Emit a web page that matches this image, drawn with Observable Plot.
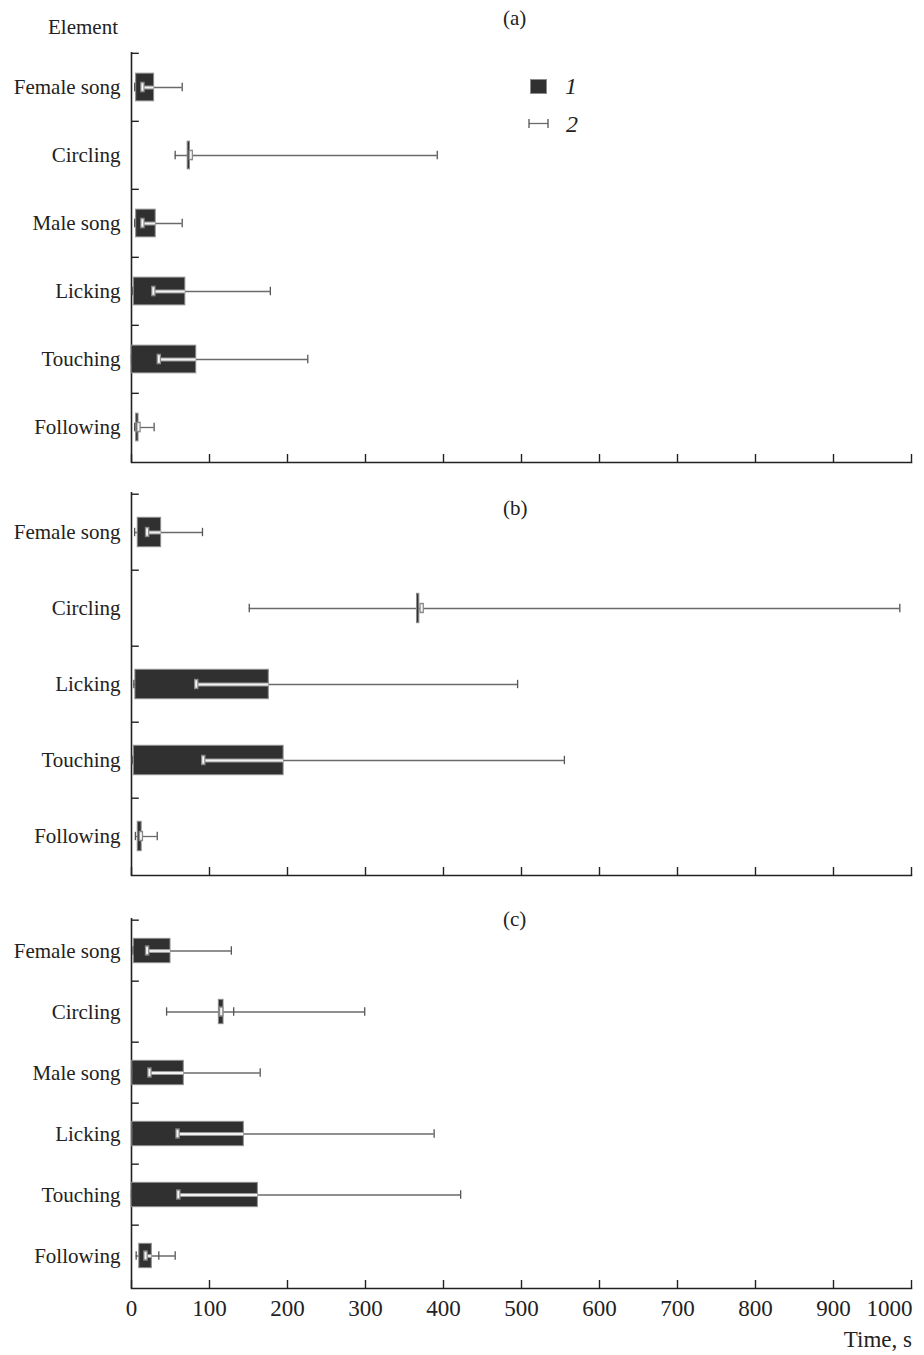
<!DOCTYPE html>
<html><head><meta charset="utf-8">
<script src="https://cdn.jsdelivr.net/npm/d3@7"></script>
<script src="https://cdn.jsdelivr.net/npm/@observablehq/plot@0.6"></script>
<style>
body{margin:0;background:#fff;font-family:"Liberation Serif",serif;color:#222;}
#wrap{position:relative;width:924px;height:1355px;overflow:hidden;}
#wrap svg.plot{position:absolute;left:0;}
.t{position:absolute;font-size:21px;line-height:1;white-space:nowrap;}
</style></head><body><div id="wrap"></div>
<script>
// ---------- data ----------
const xTicks = [0,100,200,300,400,500,600,700,800,900,1000];

// Panel (a)
const elementsA = ["Female song","Circling","Male song","Licking","Touching","Following"];
const startA = [6, 72, 6, 3, 0, 6];
const endA   = [29, 75, 31, 69, 83, 9];
const loA    = [4, 56, 4, 1, 0, 4];
const midA   = [14, 76, 14, 28, 35, 9];
const hiA    = [65, 392, 65, 178, 226, 29];
const extraA = [null, null, null, null, null, null];

// Panel (b)
const elementsB = ["Female song","Circling","Licking","Touching","Following"];
const startB = [8, 366, 5, 3, 8];
const endB   = [38, 369, 176, 195, 13];
const loB    = [4, 151, 3, 1, 5];
const midB   = [20, 372, 83, 92, 12];
const hiB    = [91, 985, 495, 555, 33];
const extraB = [null, null, null, null, null];

// Panel (c)
const elementsC = ["Female song","Circling","Male song","Licking","Touching","Following"];
const startC = [3, 112, 1, 1, 0, 10];
const endC   = [50, 118, 67, 144, 162, 26];
const loC    = [2, 45, 1, 1, 0, 6];
const midC   = [20, 115, 23, 59, 60, 18];
const hiC    = [128, 299, 165, 388, 422, 56];
const extraC = [null, 131, null, null, null, 35];

// ---------- drawing ----------
const W = 924, ML = 131, MR = 13;
const wrap = document.getElementById("wrap");

function rowsOf(el, s, e, lo, mid, hi, ex) {
  return el.map((d, i) => ({el: d, start: s[i], end: e[i], lo: lo[i], mid: mid[i], hi: hi[i], extra: ex[i]}));
}

function panel({elements, rows, top, marginTop, innerH, marginBottom, barH, labels}) {
  const n = elements.length;
  const bw = innerH / n;
  const height = marginTop + innerH + marginBottom;
  const ins = (bw - barH) / 2;
  const capIns = (bw - 9) / 2;
  const inside = rows.filter(r => r.mid < r.end).map(r => ({...r, segEnd: Math.min(r.end, r.hi)}));
  const extras = rows.filter(r => r.extra != null);
  const marks = [
    Plot.frame({anchor: "bottom", stroke: "#222", strokeWidth: 1.6}),
    Plot.ruleX([0], {stroke: "#222", strokeWidth: 1.6}),
    Plot.ruleY(elements, {y: d => d, x1: 0, x2: 10, dy: -bw / 2, stroke: "#222", strokeWidth: 1.4}),
    Plot.axisY({tickSize: 0, tickPadding: 11, fontSize: 21, fill: "#222", label: null}),
    Plot.tickX(xTicks, {x: d => d, insetTop: innerH - 8, stroke: "#222", strokeWidth: 1.4}),
    Plot.ruleY(rows, {y: "el", x1: "lo", x2: "hi", stroke: "#6a6a6a", strokeWidth: 1.3}),
    Plot.rectX(rows, {y: "el", x1: "start", x2: "end", insetTop: ins, insetBottom: ins, fill: "#303030", stroke: "#8c8c8c", strokeWidth: 1}),
    Plot.ruleY(inside, {y: "el", x1: "mid", x2: "segEnd", stroke: "#9a9a9a", strokeWidth: 4}),
    Plot.ruleY(inside, {y: "el", x1: "mid", x2: "segEnd", stroke: "#f2f2f2", strokeWidth: 1.8}),
    Plot.tickX(rows, {y: "el", x: "lo", insetTop: capIns, insetBottom: capIns, stroke: "#555", strokeWidth: 1.3}),
    Plot.tickX(rows, {y: "el", x: "hi", insetTop: capIns, insetBottom: capIns, stroke: "#555", strokeWidth: 1.3}),
    Plot.tickX(extras, {y: "el", x: "extra", insetTop: capIns, insetBottom: capIns, stroke: "#555", strokeWidth: 1.3}),
    Plot.tickX(rows, {y: "el", x: "mid", insetTop: (bw - 11) / 2, insetBottom: (bw - 11) / 2, stroke: "#8a8a8a", strokeWidth: 4.5}),
    Plot.tickX(rows, {y: "el", x: "mid", insetTop: (bw - 8) / 2, insetBottom: (bw - 8) / 2, stroke: "#f6f6f6", strokeWidth: 2})
  ];
  if (labels) {
    marks.push(Plot.axisX({ticks: xTicks.slice(0, -1), tickSize: 0, tickPadding: 11, fontSize: 23, fill: "#222", tickFormat: d => String(d), label: null}));
    marks.push(Plot.axisX({ticks: xTicks.slice(-1), tickSize: 0, tickPadding: 11, fontSize: 23, fill: "#222", textAnchor: "end", dx: 1, tickFormat: d => String(d), label: null}));
  }
  const svg = Plot.plot({
    width: W, height,
    marginLeft: ML, marginRight: MR, marginTop, marginBottom,
    style: {fontFamily: "Liberation Serif, serif", fontSize: "21px", color: "#222", background: "transparent", overflow: "visible"},
    x: labels ? {domain: [0, 1000], label: null} : {domain: [0, 1000], label: null, axis: null},
    y: {type: "band", domain: elements, padding: 0, label: null},
    marks
  });
  svg.classList.add("plot");
  svg.style.top = top + "px";
  wrap.appendChild(svg);
}

panel({elements: elementsA, rows: rowsOf(elementsA, startA, endA, loA, midA, hiA, extraA), top: 0, marginTop: 52, innerH: 410, marginBottom: 15, barH: 28});
panel({elements: elementsB, rows: rowsOf(elementsB, startB, endB, loB, midB, hiB, extraB), top: 477, marginTop: 15, innerH: 383, marginBottom: 15, barH: 30});
panel({elements: elementsC, rows: rowsOf(elementsC, startC, endC, loC, midC, hiC, extraC), top: 890, marginTop: 28, innerH: 370, marginBottom: 50, barH: 25, labels: true});

// ---------- text & legend ----------
function addText(txt, left, top, extra) {
  const d = document.createElement("div");
  d.className = "t";
  d.textContent = txt;
  d.style.left = left + "px";
  d.style.top = top + "px";
  if (extra) Object.assign(d.style, extra);
  wrap.appendChild(d);
  return d;
}
addText("Element", 48, 17);
addText("(a)", 503, 8);
addText("(b)", 503, 498);
addText("(c)", 503, 909);
addText("Time, s", 0, 1328, {left: "auto", right: "12px", fontSize: "23px"});

// legend
const leg = document.createElement("div");
leg.style.cssText = "position:absolute;left:528px;top:76px;";
leg.innerHTML =
  '<svg width="70" height="62" style="display:block;overflow:visible">' +
  '<rect x="2.5" y="3.5" width="16" height="14" fill="#303030" stroke="#8c8c8c"/>' +
  '<line x1="1" x2="20" y1="47.5" y2="47.5" stroke="#6a6a6a" stroke-width="1.3"/>' +
  '<line x1="1" x2="1" y1="43" y2="52" stroke="#555" stroke-width="1.3"/>' +
  '<line x1="20" x2="20" y1="43" y2="52" stroke="#555" stroke-width="1.3"/>' +
  '</svg>';
wrap.appendChild(leg);
addText("1", 565, 74, {fontStyle: "italic", fontSize: "24px"});
addText("2", 566, 112, {fontStyle: "italic", fontSize: "24px"});
</script>
</body></html>
